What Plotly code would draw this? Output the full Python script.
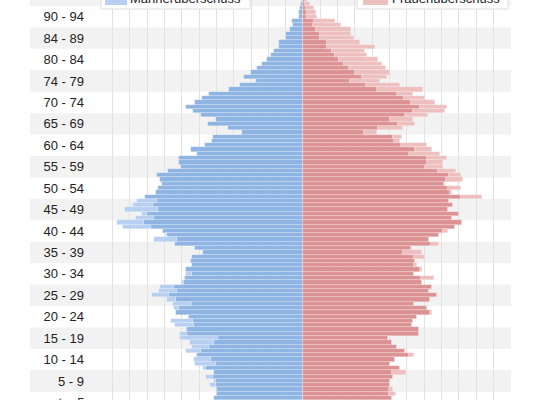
import numpy as np
import plotly.graph_objects as go

# single-year ages (visible part of the pyramid), from oldest to youngest
ages = list(range(96, 2, -1))

# men / women per age (chart units, one grid step = 17.33 units)
men = [1.5, 2, 3, 4, 4, 11, 10, 13, 17, 17, 24, 24, 29, 32, 36, 41, 46, 52, 59, 47,
       63, 74, 94, 101, 108, 117, 110, 102, 87, 95, 75, 61, 90, 91, 98, 112, 106, 124, 124, 122,
       135, 146, 143, 141, 145, 147, 158, 166, 170, 178, 161, 167, 186, 180, 140, 137, 149, 128, 108, 100,
       111, 112, 111, 117, 117, 118, 121, 143, 144, 151, 136, 130, 129, 127, 115, 132, 128, 117, 123, 123,
       113, 111, 117, 106, 109, 108, 100, 89, 97, 89, 93, 86, 86, 89]
women = [4, 7, 11, 13, 14, 32, 38, 48, 48, 51, 57, 72, 62, 64, 75, 79, 83, 87, 84, 77,
         97, 120, 110, 122, 132, 144, 142, 125, 110, 112, 100, 74, 99, 97, 124, 129, 137, 144, 140, 140,
         153, 158, 160, 142, 158, 149, 179, 146, 150, 145, 156, 149, 159, 152, 145, 136, 126, 136, 109, 119,
         122, 112, 114, 119, 111, 131, 119, 129, 126, 134, 127, 111, 124, 129, 114, 110, 109, 116, 116, 85,
         89, 94, 102, 111, 92, 87, 97, 103, 90, 87, 87, 90, 93, 89]

# age-group labels (as in the original)
group_centers = [97, 92, 87, 82, 77, 72, 67, 62, 57, 52, 47, 42, 37, 32, 27, 22, 17, 12, 7, 2]
group_labels = ["95 - 99", "90 - 94", "84 - 89", "80 - 84", "74 - 79", "70 - 74", "65 - 69",
                "60 - 64", "55 - 59", "50 - 54", "45 - 49", "40 - 44", "35 - 39", "30 - 34",
                "25 - 29", "20 - 24", "15 - 19", "10 - 14", "5 - 9", "unter 5"]

legend_men = "Männerüberschuss"
legend_women = "Frauenüberschuss"

C_MEN = "#8eb4e3"
C_MEN_SUR = "#b7cff0"
C_WOM = "#dc9292"
C_WOM_SUR = "#edbfbf"

m = np.array(men, dtype=float)
w = np.array(women, dtype=float)
base = np.minimum(m, w)

line = dict(color="rgba(255,255,255,0.35)", width=0.6)
fig = go.Figure()
fig.add_trace(go.Bar(y=ages, x=-base, orientation="h", marker=dict(color=C_MEN, line=line),
                     showlegend=False, hoverinfo="skip"))
fig.add_trace(go.Bar(y=ages, x=-(m - base), orientation="h", marker=dict(color=C_MEN_SUR, line=line),
                     showlegend=False, hoverinfo="skip"))
fig.add_trace(go.Bar(y=ages, x=base, orientation="h", marker=dict(color=C_WOM, line=line),
                     showlegend=False, hoverinfo="skip"))
fig.add_trace(go.Bar(y=ages, x=(w - base), orientation="h", marker=dict(color=C_WOM_SUR, line=line),
                     showlegend=False, hoverinfo="skip"))

L, R, W, H = 95, 511, 550, 400
PW = R - L
Y_LO, Y_HI = 2.57, 95.9


def px(xp):
    return (xp - L) / PW


def py(yp):
    return 1 - yp / H


def age_to_paper(a):
    return (a - Y_LO) / (Y_HI - Y_LO)


shapes = []
# alternating background bands (every 5 years)
for k in range(0, 20):
    if k % 2 == 1:
        shapes.append(dict(type="rect", xref="paper", yref="y", x0=px(30), x1=1,
                           y0=5 * k - 0.5, y1=5 * k + 4.5, fillcolor="#f2f2f2",
                           line=dict(width=0), layer="below"))

# legend boxes (partly outside the visible area at the top)
for (bx0, bx1, sx0, sx1, col) in [(101, 250, 105, 127, C_MEN_SUR), (357, 508, 363, 388, C_WOM_SUR)]:
    shapes.append(dict(type="rect", xref="paper", yref="paper", x0=px(bx0), x1=px(bx1),
                       y0=py(9), y1=py(-30), fillcolor="white",
                       line=dict(color="#dddddd", width=1), layer="above"))
    shapes.append(dict(type="rect", xref="paper", yref="paper", x0=px(sx0), x1=px(sx1),
                       y0=py(5), y1=py(-20), fillcolor=col, line=dict(width=0), layer="above"))

annotations = [
    dict(text=legend_men, xref="paper", yref="paper", x=px(128), y=py(8), xanchor="left",
         yanchor="bottom", showarrow=False, font=dict(size=13, color="#222")),
    dict(text=legend_women, xref="paper", yref="paper", x=px(390), y=py(8), xanchor="left",
         yanchor="bottom", showarrow=False, font=dict(size=13, color="#222")),
]
# group labels that lie partly outside the axis range (tick labels would be dropped there)
for c, t in zip(group_centers, group_labels):
    if c < Y_LO or c > Y_HI:
        annotations.append(dict(text=t, xref="paper", yref="paper", x=px(L - 10),
                                y=age_to_paper(c), xanchor="right", yanchor="middle",
                                showarrow=False, borderpad=0,
                                font=dict(size=13, color="#222")))

fig.update_layout(
    width=W, height=H,
    margin=dict(l=L, r=W - R, t=0, b=0, pad=0),
    barmode="relative", bargap=0,
    plot_bgcolor="rgba(0,0,0,0)", paper_bgcolor="white",
    font=dict(family="Arial, Liberation Sans, sans-serif", size=13, color="#222"),
    shapes=shapes, annotations=annotations, showlegend=False,
)
fig.update_xaxes(range=[-208.3, 208.3], tick0=0, dtick=208 / 12, showgrid=True,
                 gridcolor="#e2e2e2", gridwidth=1, zeroline=False, showticklabels=False,
                 showline=False, fixedrange=True)
fig.update_yaxes(range=[Y_LO, Y_HI], tickvals=group_centers, ticktext=group_labels,
                 showgrid=False, zeroline=False, ticks="", ticklabelstandoff=10,
                 showline=False, fixedrange=True)

fig.write_html("out.html", config={"displayModeBar": False},
               post_script="document.body.style.margin='0px';document.body.style.overflow='hidden';")
